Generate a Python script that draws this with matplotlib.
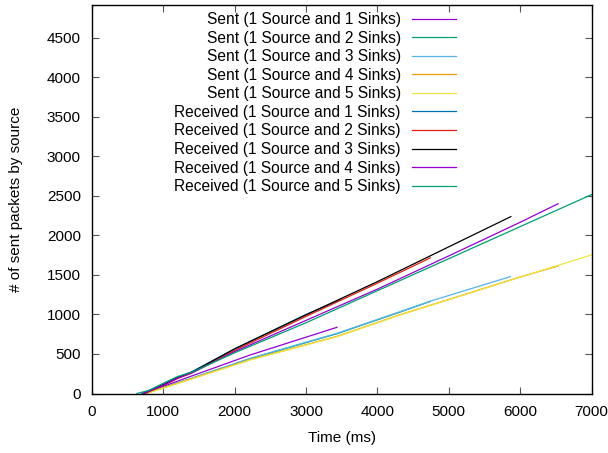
import matplotlib
matplotlib.use('Agg')
import matplotlib.pyplot as plt

# time (ms) / packet count knots
sent1_t = [740, 1000, 1300, 2216, 3433]
sent1_y = [0, 90, 190, 487, 837]
sent2_t = [720, 1000, 1300, 2216, 3433, 4318, 4741]
sent2_y = [0, 73, 162, 440, 756, 1030, 1165]
sent3_t = [750, 1000, 1300, 2216, 3433, 4318, 4785, 5864]
sent3_y = [0, 75, 165, 445, 761, 1035, 1180, 1478]
sent4_t = [760, 1000, 1300, 2216, 3433, 4318, 4925, 6000, 6532]
sent4_y = [0, 72, 160, 428, 722, 997, 1168, 1474, 1612]
sent5_t = [760, 1000, 1300, 2216, 3433, 4318, 4925, 6000, 7000]
sent5_y = [0, 68, 155, 424, 718, 993, 1165, 1470, 1753]

recv1_t = [700, 1000, 1200, 1400, 2000, 3000, 3480]
recv1_y = [0, 115, 205, 275, 565, 1000, 1183]
recv2_t = [740, 1000, 1200, 1400, 2000, 3000, 4000, 4741]
recv2_y = [0, 100, 190, 260, 545, 975, 1395, 1715]
recv3_t = [720, 1000, 1200, 1400, 2000, 3000, 4000, 5000, 5870]
recv3_y = [0, 110, 200, 270, 565, 995, 1415, 1855, 2237]
recv4_t = [720, 1000, 1200, 1400, 2000, 3000, 4000, 5000, 6000, 6532]
recv4_y = [0, 105, 195, 260, 530, 925, 1320, 1740, 2165, 2400]
recv5_t = [630, 800, 1000, 1200, 1400, 2000, 3000, 4000, 5000, 6000, 7000]
recv5_y = [0, 40, 130, 215, 270, 515, 895, 1300, 1705, 2110, 2515]

series = [
    ('Sent (1 Source and 1 Sinks)', sent1_t, sent1_y, '#9400D3'),
    ('Sent (1 Source and 2 Sinks)', sent2_t, sent2_y, '#009E73'),
    ('Sent (1 Source and 3 Sinks)', sent3_t, sent3_y, '#56B4E9'),
    ('Sent (1 Source and 4 Sinks)', sent4_t, sent4_y, '#E69F00'),
    ('Sent (1 Source and 5 Sinks)', sent5_t, sent5_y, '#F0E442'),
    ('Received (1 Source and 1 Sinks)', recv1_t, recv1_y, '#0072B2'),
    ('Received (1 Source and 2 Sinks)', recv2_t, recv2_y, '#E51E10'),
    ('Received (1 Source and 3 Sinks)', recv3_t, recv3_y, '#000000'),
    ('Received (1 Source and 4 Sinks)', recv4_t, recv4_y, '#9400D3'),
    ('Received (1 Source and 5 Sinks)', recv5_t, recv5_y, '#009E73'),
]

plt.rcParams['font.family'] = ['Liberation Sans', 'DejaVu Sans']

fig = plt.figure(figsize=(6.08, 4.53), dpi=100)
ax = fig.add_axes([92 / 608, 1 - 393.5 / 453, 499.5 / 608, 388.5 / 453])

for label, t, y, color in series:
    ax.plot(t, y, color=color, linewidth=0.9, label=label)

ax.set_xlim(0, 7000)
ax.set_ylim(0, 4913)
ax.set_xticks(range(0, 7001, 1000))
ax.set_yticks(range(0, 4501, 500))
ax.tick_params(direction='in', length=5, top=True, right=True, labelsize=11, pad=8, color='#555555')
for s in ax.spines.values():
    s.set_linewidth(1.0)

ax.set_xlabel('Time (ms)', fontsize=11, labelpad=9)
ax.set_ylabel('# of sent packets by source', fontsize=11, labelpad=17)

leg = ax.legend(loc='upper right', bbox_to_anchor=((456 - 92) / 499.5, (393.5 - 12) / 388.5),
                frameon=False, markerfirst=False, fontsize=11.2, borderpad=0, borderaxespad=0,
                handlelength=2.85, handletextpad=0.7, labelspacing=0.23)

plt.savefig('out.png', dpi=100)
plt.close()
